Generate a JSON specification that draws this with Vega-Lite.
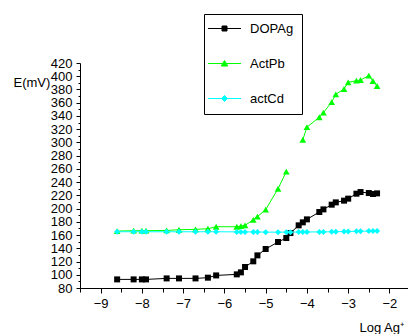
{
  "$schema": "https://vega.github.io/schema/vega-lite/v6.json",
  "width": 328,
  "height": 225,
  "autosize": {"type": "none"},
  "padding": {"left": 80, "top": 63, "right": 0, "bottom": 46},
  "config": {
    "view": {"stroke": null},
    "font": "Liberation Sans",
    "axis": {"grid": false, "domainColor": "#000", "tickColor": "#000", "labelColor": "#000", "titleColor": "#000", "labelFont": "Liberation Sans", "titleFont": "Liberation Sans", "labelFontSize": 13, "titleFontSize": 13, "titleFontWeight": "normal", "domainWidth": 1, "tickWidth": 1}
  },
  "data": {
    "values": [
      {"s": "DOPAg", "g": "a", "x": -8.6, "y": 93},
      {"s": "DOPAg", "g": "a", "x": -8.2, "y": 93},
      {"s": "DOPAg", "g": "a", "x": -8.0, "y": 93},
      {"s": "DOPAg", "g": "a", "x": -7.9, "y": 93},
      {"s": "DOPAg", "g": "a", "x": -7.4, "y": 94.5},
      {"s": "DOPAg", "g": "a", "x": -7.1, "y": 94.5},
      {"s": "DOPAg", "g": "a", "x": -6.7, "y": 94.5},
      {"s": "DOPAg", "g": "a", "x": -6.4, "y": 95.6},
      {"s": "DOPAg", "g": "a", "x": -6.2, "y": 99},
      {"s": "DOPAg", "g": "a", "x": -5.7, "y": 100.6},
      {"s": "DOPAg", "g": "a", "x": -5.6, "y": 103.6},
      {"s": "DOPAg", "g": "a", "x": -5.5, "y": 111.7},
      {"s": "DOPAg", "g": "a", "x": -5.3, "y": 120.3},
      {"s": "DOPAg", "g": "a", "x": -5.2, "y": 129.3},
      {"s": "DOPAg", "g": "a", "x": -5.0, "y": 138.9},
      {"s": "DOPAg", "g": "a", "x": -4.7, "y": 149.5},
      {"s": "DOPAg", "g": "a", "x": -4.5, "y": 155.5},
      {"s": "DOPAg", "g": "a", "x": -4.4, "y": 163},
      {"s": "DOPAg", "g": "a", "x": -4.2, "y": 174.7},
      {"s": "DOPAg", "g": "a", "x": -4.1, "y": 179.2},
      {"s": "DOPAg", "g": "a", "x": -4.0, "y": 183.7},
      {"s": "DOPAg", "g": "a", "x": -3.7, "y": 194.8},
      {"s": "DOPAg", "g": "a", "x": -3.6, "y": 198.8},
      {"s": "DOPAg", "g": "a", "x": -3.4, "y": 205.9},
      {"s": "DOPAg", "g": "a", "x": -3.3, "y": 209.4},
      {"s": "DOPAg", "g": "a", "x": -3.1, "y": 212},
      {"s": "DOPAg", "g": "a", "x": -3.0, "y": 215},
      {"s": "DOPAg", "g": "a", "x": -2.8, "y": 222.5},
      {"s": "DOPAg", "g": "a", "x": -2.7, "y": 225},
      {"s": "DOPAg", "g": "a", "x": -2.5, "y": 223.5},
      {"s": "DOPAg", "g": "a", "x": -2.4, "y": 222},
      {"s": "DOPAg", "g": "a", "x": -2.3, "y": 223},
      {"s": "ActPb", "g": "b", "x": -8.6, "y": 166},
      {"s": "ActPb", "g": "b", "x": -8.2, "y": 166.6},
      {"s": "ActPb", "g": "b", "x": -8.0, "y": 166.6},
      {"s": "ActPb", "g": "b", "x": -7.9, "y": 166.6},
      {"s": "ActPb", "g": "b", "x": -7.4, "y": 167},
      {"s": "ActPb", "g": "b", "x": -7.1, "y": 168},
      {"s": "ActPb", "g": "b", "x": -6.7, "y": 168.6},
      {"s": "ActPb", "g": "b", "x": -6.4, "y": 169.6},
      {"s": "ActPb", "g": "b", "x": -6.2, "y": 172.6},
      {"s": "ActPb", "g": "b", "x": -5.7, "y": 172.6},
      {"s": "ActPb", "g": "b", "x": -5.6, "y": 173.6},
      {"s": "ActPb", "g": "b", "x": -5.5, "y": 174.7},
      {"s": "ActPb", "g": "b", "x": -5.3, "y": 183},
      {"s": "ActPb", "g": "b", "x": -5.2, "y": 187.8},
      {"s": "ActPb", "g": "b", "x": -5.0, "y": 198.4},
      {"s": "ActPb", "g": "b", "x": -4.7, "y": 230},
      {"s": "ActPb", "g": "b", "x": -4.5, "y": 255.8},
      {"s": "ActPb", "g": "c", "x": -4.1, "y": 304},
      {"s": "ActPb", "g": "c", "x": -4.0, "y": 323},
      {"s": "ActPb", "g": "c", "x": -3.7, "y": 338},
      {"s": "ActPb", "g": "c", "x": -3.6, "y": 345},
      {"s": "ActPb", "g": "c", "x": -3.4, "y": 361},
      {"s": "ActPb", "g": "c", "x": -3.3, "y": 372.6},
      {"s": "ActPb", "g": "c", "x": -3.1, "y": 380.7},
      {"s": "ActPb", "g": "c", "x": -3.0, "y": 390.8},
      {"s": "ActPb", "g": "c", "x": -2.8, "y": 393.3},
      {"s": "ActPb", "g": "c", "x": -2.7, "y": 394.3},
      {"s": "ActPb", "g": "c", "x": -2.5, "y": 400.9},
      {"s": "ActPb", "g": "c", "x": -2.4, "y": 392.8},
      {"s": "ActPb", "g": "c", "x": -2.3, "y": 385.2},
      {"s": "actCd", "g": "d", "x": -8.6, "y": 165},
      {"s": "actCd", "g": "d", "x": -8.2, "y": 165},
      {"s": "actCd", "g": "d", "x": -8.0, "y": 165},
      {"s": "actCd", "g": "d", "x": -7.9, "y": 165},
      {"s": "actCd", "g": "d", "x": -7.4, "y": 165},
      {"s": "actCd", "g": "d", "x": -7.1, "y": 165},
      {"s": "actCd", "g": "d", "x": -6.7, "y": 165},
      {"s": "actCd", "g": "d", "x": -6.4, "y": 165},
      {"s": "actCd", "g": "d", "x": -6.2, "y": 165},
      {"s": "actCd", "g": "d", "x": -5.7, "y": 164.8},
      {"s": "actCd", "g": "d", "x": -5.6, "y": 164.8},
      {"s": "actCd", "g": "d", "x": -5.5, "y": 164.8},
      {"s": "actCd", "g": "d", "x": -5.3, "y": 164.7},
      {"s": "actCd", "g": "d", "x": -5.2, "y": 164.7},
      {"s": "actCd", "g": "d", "x": -5.0, "y": 164.4},
      {"s": "actCd", "g": "d", "x": -4.7, "y": 164.4},
      {"s": "actCd", "g": "d", "x": -4.5, "y": 164.4},
      {"s": "actCd", "g": "d", "x": -4.4, "y": 164.4},
      {"s": "actCd", "g": "d", "x": -4.2, "y": 164.6},
      {"s": "actCd", "g": "d", "x": -4.1, "y": 164.6},
      {"s": "actCd", "g": "d", "x": -4.0, "y": 164.6},
      {"s": "actCd", "g": "d", "x": -3.7, "y": 164.8},
      {"s": "actCd", "g": "d", "x": -3.6, "y": 164.8},
      {"s": "actCd", "g": "d", "x": -3.4, "y": 165},
      {"s": "actCd", "g": "d", "x": -3.3, "y": 165},
      {"s": "actCd", "g": "d", "x": -3.1, "y": 165.4},
      {"s": "actCd", "g": "d", "x": -3.0, "y": 165.4},
      {"s": "actCd", "g": "d", "x": -2.8, "y": 165.8},
      {"s": "actCd", "g": "d", "x": -2.7, "y": 165.8},
      {"s": "actCd", "g": "d", "x": -2.5, "y": 166},
      {"s": "actCd", "g": "d", "x": -2.4, "y": 166},
      {"s": "actCd", "g": "d", "x": -2.3, "y": 166}
    ]
  },
  "layer": [
    {
      "mark": {"type": "line", "strokeWidth": 1},
      "encoding": {
        "x": {"field": "x", "type": "quantitative", "scale": {"domain": [-9.5, -1.55], "nice": false, "zero": false},
          "axis": {"orient": "bottom", "values": [-9, -8, -7, -6, -5, -4, -3, -2], "title": "Log Ag⁺", "tickSize": 5, "labelPadding": 4, "titleAnchor": "start", "titleAlign": "left", "titleBaseline": "alphabetic", "titleX": 279, "titleY": 43, "labelFlush": false}},
        "y": {"field": "y", "type": "quantitative", "scale": {"domain": [80, 420], "nice": false, "zero": false},
          "axis": {"orient": "left", "values": [80, 100, 120, 140, 160, 180, 200, 220, 240, 260, 280, 300, 320, 340, 360, 380, 400, 420], "title": "E(mV)", "titleAngle": 0, "titleAlign": "left", "titleBaseline": "middle", "titleX": -67, "titleY": 19, "tickSize": 4, "labelPadding": 4, "labelFlush": false}},
        "color": {"field": "s", "type": "nominal",
          "scale": {"domain": ["DOPAg", "ActPb", "actCd"], "range": ["#000000", "#00ff00", "#00ffff"]},
          "legend": {"title": null, "orient": "none", "legendX": 124, "legendY": -49, "strokeColor": "#000", "fillColor": "#fff", "padding": 8, "labelFontSize": 13, "labelFont": "Liberation Sans", "labelColor": "#000", "symbolSize": 100, "rowPadding": 21, "labelOffset": 25, "symbolStrokeWidth": 1,
            "symbolType": {"expr": "datum.value === 'DOPAg' ? 'M-2.1,0H4.5M0.7,-0.5H1.7V0.5H0.7Z' : datum.value === 'ActPb' ? 'M-2.1,0H4.5M1.2,-0.6L1.85,0.5H0.55Z' : 'M-2.1,0H4.5M1.2,-0.6L1.8,0L1.2,0.6L0.6,0Z'"},
            "encode": {"symbols": {"update": {
              "fill": {"scale": "color", "field": "value"},
              "stroke": {"scale": "color", "field": "value"},
              "opacity": {"value": 1}
            }}}}},
        "detail": {"field": "g", "type": "nominal"}
      }
    },
    {
      "transform": [{"filter": "datum.s === 'DOPAg'"}],
      "mark": {"type": "point", "filled": true, "opacity": 1, "size": 36, "shape": "square"},
      "encoding": {
        "x": {"field": "x", "type": "quantitative", "axis": null},
        "y": {"field": "y", "type": "quantitative", "axis": null},
        "color": {"field": "s", "type": "nominal"}
      }
    },
    {
      "transform": [{"filter": "datum.s === 'ActPb'"}],
      "mark": {"type": "point", "filled": true, "opacity": 1, "size": 45, "shape": "triangle-up"},
      "encoding": {
        "x": {"field": "x", "type": "quantitative", "axis": null},
        "y": {"field": "y", "type": "quantitative", "axis": null},
        "color": {"field": "s", "type": "nominal"}
      }
    },
    {
      "transform": [{"filter": "datum.s === 'actCd'"}],
      "mark": {"type": "point", "filled": true, "opacity": 1, "size": 36, "shape": "diamond"},
      "encoding": {
        "x": {"field": "x", "type": "quantitative", "axis": null},
        "y": {"field": "y", "type": "quantitative", "axis": null},
        "color": {"field": "s", "type": "nominal"}
      }
    },
    {
      "mark": {"type": "rule", "opacity": 0},
      "encoding": {
        "x": {"field": "x", "type": "quantitative", "axis": {"orient": "bottom", "values": [-9.5, -8.5, -7.5, -6.5, -5.5, -4.5, -3.5, -2.5], "labels": false, "domain": false, "tickSize": 4, "title": null}},
        "y": {"field": "y", "type": "quantitative", "axis": {"orient": "left", "values": [90, 110, 130, 150, 170, 190, 210, 230, 250, 270, 290, 310, 330, 350, 370, 390, 410], "labels": false, "domain": false, "tickSize": 2, "title": null}}
      }
    }
  ],
  "resolve": {"axis": {"x": "independent", "y": "independent"}}
}
